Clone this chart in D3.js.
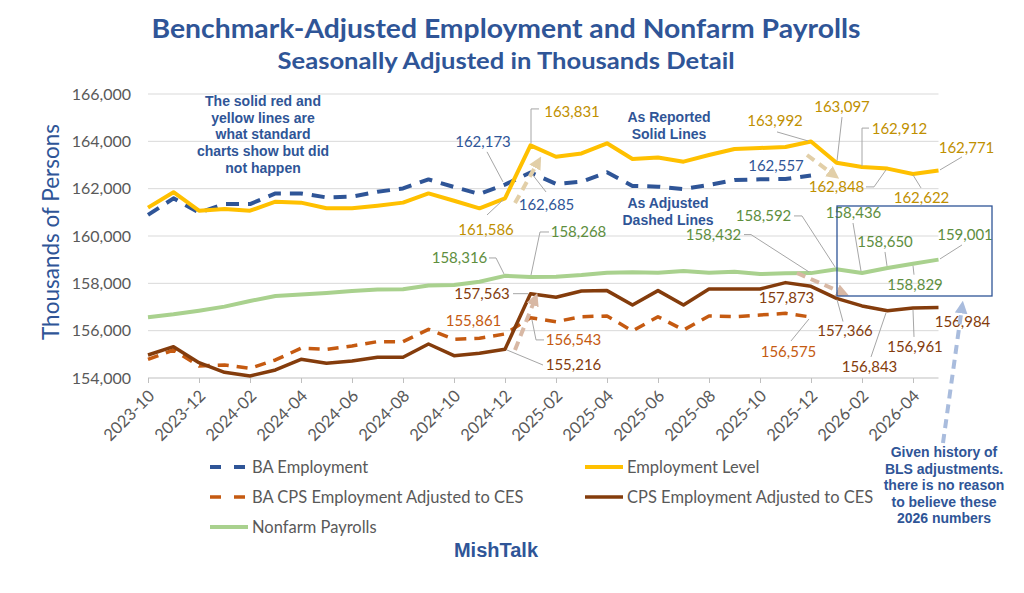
<!DOCTYPE html>
<html>
<head>
<meta charset="utf-8">
<script src="https://cdn.jsdelivr.net/npm/d3@7"></script>
<style>
  body { margin: 0; background: #fff; }
  svg { display: block; }
</style>
</head>
<body>
<script>
// months on the category axis
var months = ["2023-10","2023-11","2023-12","2024-01","2024-02","2024-03","2024-04","2024-05",
  "2024-06","2024-07","2024-08","2024-09","2024-10","2024-11","2024-12","2025-01",
  "2025-02","2025-03","2025-04","2025-05","2025-06","2025-07","2025-08","2025-09",
  "2025-10","2025-11","2025-12","2026-01","2026-02","2026-03","2026-04","2026-05"];

// series (thousands)
var baEmployment = [160890,161590,160990,161350,161350,161800,161800,161630,161660,161870,162010,162390,
  162070,161775,162173,162685,162200,162295,162690,162115,162085,161985,162155,162365,162395,162410,162557,
  null,null,null,null,null];
var employmentLevel = [161200,161850,161070,161140,161070,161450,161410,161170,161170,161280,161410,161800,
  161490,161170,161586,163831,163350,163490,163916,163254,163320,163140,163420,163676,163720,163760,163992,
  163097,162912,162848,162622,162771];
var baCps = [154790,155183,154508,154550,154409,154762,155254,155212,155353,155536,155536,156057,
  155634,155676,155861,156543,156380,156591,156620,155986,156591,156028,156620,156591,156662,156733,156575,
  null,null,null,null,null];
var cpsAdjusted = [154972,155324,154648,154240,154085,154339,154790,154620,154720,154874,154874,155437,
  154944,155044,155216,157563,157410,157678,157692,157086,157692,157086,157763,157763,157763,158030,157873,
  157366,157045,156843,156961,156984];
var nonfarm = [156566,156690,156845,157015,157255,157465,157525,157595,157680,157735,157750,157905,
  157930,158070,158316,158268,158283,158352,158451,158465,158451,158521,158451,158493,158394,158422,158432,
  158592,158436,158650,158829,159001];

var yTicks = [154000,156000,158000,160000,162000,164000,166000];
var xTickLabels = months.filter(function(d, i) { return i % 2 == 0; });

var W = 1024, H = 593;
var svg = d3.select("body").append("svg").attr("width", W).attr("height", H);

var x = d3.scalePoint().domain(months).range([148, 938.5]);
var y = d3.scaleLinear().domain([154000, 166000]).range([378, 94]);

var series = [
  {key: "nf", name: "Nonfarm Payrolls", values: nonfarm, color: "#A9D18E", label: "#5E8E3E", width: 4, dash: null},
  {key: "bacps", name: "BA CPS Employment Adjusted to CES", values: baCps, color: "#C55A11", label: "#C55A11", width: 3.5, dash: "11,8"},
  {key: "cps", name: "CPS Employment Adjusted to CES", values: cpsAdjusted, color: "#843C0C", label: "#843C0C", width: 3.5, dash: null},
  {key: "ba", name: "BA Employment", values: baEmployment, color: "#2F5597", label: "#2F5597", width: 4, dash: "13,9"},
  {key: "emp", name: "Employment Level", values: employmentLevel, color: "#FFC000", label: "#BF9000", width: 4, dash: null}
];
var byKey = {};
series.forEach(function(s) { byKey[s.key] = s; });

// gridlines
svg.append("g").selectAll("line").data(yTicks.slice(1)).enter().append("line")
  .attr("x1", 148).attr("x2", 938.5)
  .attr("y1", function(d) { return y(d); }).attr("y2", function(d) { return y(d); })
  .attr("stroke", "#D9D9D9").attr("stroke-width", 1);

// y axis labels
svg.append("g").selectAll("text").data(yTicks).enter().append("text")
  .attr("x", 131).attr("y", function(d) { return y(d); }).attr("dy", "0.35em")
  .attr("text-anchor", "end")
  .attr("font-family", "Lato, 'Open Sans', sans-serif").attr("font-size", "16px")
  .attr("fill", "#595959")
  .text(function(d) { return d3.format(",")(d); });

// x axis
var xAxis = svg.append("g").attr("transform", "translate(0," + y(154000) + ")")
  .call(d3.axisBottom(x).tickValues(xTickLabels).tickSize(5).tickSizeOuter(0).tickPadding(6));
xAxis.select(".domain").attr("stroke", "#BFBFBF").attr("d", "M148,0H938.5");
xAxis.selectAll(".tick line").attr("stroke", "#BFBFBF");
xAxis.selectAll(".tick text")
  .attr("font-family", "Lato, 'Open Sans', sans-serif").attr("font-size", "16.5px").attr("fill", "#595959")
  .attr("text-anchor", "end").attr("dy", null).attr("y", 0)
  .attr("transform", "translate(7,19) rotate(-45)");

// y axis title
svg.append("text")
  .attr("transform", "translate(59,232) rotate(-90)")
  .attr("text-anchor", "middle")
  .attr("font-family", "Lato, 'Open Sans', sans-serif").attr("font-size", "22.5px")
  .attr("fill", "#2F5597")
  .text("Thousands of Persons");

// lines
var line = d3.line()
  .defined(function(d) { return d != null; })
  .x(function(d, i) { return x(months[i]); })
  .y(function(d) { return y(d); });

svg.append("g").selectAll("path").data(series).enter().append("path")
  .attr("d", function(s) { return line(s.values); })
  .attr("fill", "none")
  .attr("stroke", function(s) { return s.color; })
  .attr("stroke-width", function(s) { return s.width; })
  .attr("stroke-dasharray", function(s) { return s.dash; })
  .attr("stroke-linejoin", "round");

// data labels: which points are labelled, with label offset and leader (relative to the point)
var labelled = [
  {s: "emp", i: 14, dx: -19, dy: 31.5, lead: [[-18,16.5],[-2,1.5]]},
  {s: "emp", i: 15, dx: 41.5, dy: -33.4, lead: [[8.5,-36.4],[0.5,-36.4],[0.5,-2]]},
  {s: "emp", i: 26, dx: -36, dy: -20.6, lead: [[-34,-9.6],[-3,-0.6]]},
  {s: "emp", i: 27, dx: 5.5, dy: -55.7, lead: [[5.5,-45.7],[0.5,-1.7]]},
  {s: "emp", i: 28, dx: 37.5, dy: -38, lead: [[7,-39],[0,-39],[0,-1]]},
  {s: "emp", i: 29, dx: -51, dy: 18.3, lead: [[-21.5,18.3],[-13.5,18.3],[-1.5,1.3]]},
  {s: "emp", i: 30, dx: 8.5, dy: 24, lead: [[8,14],[0,1]]},
  {s: "emp", i: 31, dx: 28, dy: -22.5, lead: [[23.5,-13.5],[1.5,-0.5]]},
  {s: "ba", i: 14, dx: -22, dy: -42.7, lead: [[-18,-32.7],[-2,-2.7]]},
  {s: "ba", i: 15, dx: 16, dy: 32.5, lead: [[15.5,19.5],[1.5,1.5]]},
  {s: "ba", i: 26, dx: -35, dy: -9.5, lead: null},
  {s: "nf", i: 14, dx: -45.5, dy: -17.9, lead: [[-16,-17.9],[-9,-17.9],[-1,-1.9]]},
  {s: "nf", i: 15, dx: 48, dy: -45, lead: [[18.5,-45],[9.5,-45],[0.5,-2]]},
  {s: "nf", i: 26, dx: -97.5, dy: -38.5, lead: [[-67,-38.5],[-60,-38.5],[-2,-1.2]]},
  {s: "nf", i: 27, dx: -73, dy: -53.4, lead: [[-42.5,-53.4],[-34.5,-53.4],[-1.5,-2.4]]},
  {s: "nf", i: 28, dx: -8.5, dy: -60, lead: [[-9,-50],[-1,-2]]},
  {s: "nf", i: 29, dx: -2.5, dy: -26, lead: [[-2.5,-16],[-0.5,-2]]},
  {s: "nf", i: 30, dx: 2, dy: 21, lead: [[1,11],[0,2]]},
  {s: "nf", i: 31, dx: 26.5, dy: -24.7, lead: [[23.5,-14.7],[1.5,-0.7]]},
  {s: "cps", i: 14, dx: 68.5, dy: 15.8, lead: [[38,15.8],[2,0.8]]},
  {s: "cps", i: 15, dx: -48.5, dy: 0, lead: [[-17.5,0],[-2.5,0]]},
  {s: "cps", i: 26, dx: -24.5, dy: 11.2, lead: null},
  {s: "cps", i: 27, dx: 8.5, dy: 32.2, lead: [[6.5,23.2],[0.5,1.2]]},
  {s: "cps", i: 29, dx: -18, dy: 56.2, lead: [[-16.5,46.2],[-1.5,2.2]]},
  {s: "cps", i: 30, dx: 2, dy: 39, lead: [[1,29],[0,2]]},
  {s: "cps", i: 31, dx: 24, dy: 14.5, lead: null},
  {s: "bacps", i: 14, dx: -31.5, dy: -13, lead: null},
  {s: "bacps", i: 15, dx: 43, dy: 22.1, lead: [[13.5,22.1],[5.5,22.1],[1.5,2.1]]},
  {s: "bacps", i: 26, dx: -22.5, dy: 34.9, lead: [[-20,23.9],[-2,1.9]]}
];

var labelG = svg.append("g");
labelled.forEach(function(l) {
  var s = byKey[l.s], v = s.values[l.i];
  var px = x(months[l.i]), py = y(v);
  if (l.lead) {
    labelG.append("polyline")
      .attr("points", l.lead.map(function(p) { return (px + p[0]) + "," + (py + p[1]); }).join(" "))
      .attr("fill", "none").attr("stroke", "#A6A6A6").attr("stroke-width", 1);
  }
  labelG.append("text")
    .attr("x", px + l.dx).attr("y", py + l.dy).attr("dy", "0.35em")
    .attr("text-anchor", "middle")
    .attr("font-family", "Lato, 'Open Sans', sans-serif").attr("font-size", "15px")
    .attr("fill", s.label)
    .text(d3.format(",")(v));
});

// dashed annotation arrows
var defs = svg.append("defs");
function marker(id, color) {
  defs.append("marker").attr("id", id)
    .attr("viewBox", "0 0 10 10").attr("refX", 5).attr("refY", 5)
    .attr("markerWidth", 3.2).attr("markerHeight", 3.2).attr("orient", "auto")
    .append("path").attr("d", "M0,0L10,5L0,10Z").attr("fill", color);
}
marker("tan", "#E2CFA8");
marker("rose", "#D8B8A4");
marker("sky", "#A9BCDD");
var arrows = [
  {from: [515, 203], to: [538, 162], c: "#E2CFA8", m: "tan"},
  {from: [807, 155], to: [834, 175], c: "#E2CFA8", m: "tan"},
  {from: [797, 273], to: [843, 293], c: "#D8B8A4", m: "rose"},
  {from: [515, 350], to: [535, 299], c: "#D8B8A4", m: "rose"},
  {from: [943, 443], to: [962, 307], c: "#A9BCDD", m: "sky"}
];
svg.append("g").selectAll("line").data(arrows).enter().append("line")
  .attr("x1", function(d) { return d.from[0]; }).attr("y1", function(d) { return d.from[1]; })
  .attr("x2", function(d) { return d.to[0]; }).attr("y2", function(d) { return d.to[1]; })
  .attr("stroke", function(d) { return d.c; }).attr("stroke-width", 4)
  .attr("stroke-dasharray", "9,6")
  .attr("marker-end", function(d) { return "url(#" + d.m + ")"; });

// box around 2026 values
svg.append("rect").attr("x", 837).attr("y", 206).attr("width", 155).attr("height", 90)
  .attr("fill", "none").attr("stroke", "#2F5597").attr("stroke-width", 1.3);

// titles
svg.append("text").attr("x", 506).attr("y", 38).attr("text-anchor", "middle")
  .attr("font-family", "Lato, sans-serif").attr("font-weight", "bold").attr("font-size", "26px")
  .attr("textLength", 709).attr("lengthAdjust", "spacingAndGlyphs")
  .attr("fill", "#2F5597").text("Benchmark-Adjusted Employment and Nonfarm Payrolls");
svg.append("text").attr("x", 506).attr("y", 69).attr("text-anchor", "middle")
  .attr("font-family", "Lato, sans-serif").attr("font-weight", "bold").attr("font-size", "22px")
  .attr("textLength", 457).attr("lengthAdjust", "spacingAndGlyphs")
  .attr("fill", "#2F5597").text("Seasonally Adjusted in Thousands Detail");

// text notes
function note(lines, cx, y0, step, size) {
  var t = svg.append("text").attr("text-anchor", "middle")
    .attr("font-family", "'Liberation Sans', Arial, sans-serif").attr("font-weight", "bold")
    .attr("font-size", size).attr("fill", "#2F5597");
  lines.forEach(function(s, k) {
    t.append("tspan").attr("x", cx).attr("y", y0 + k * step).text(s);
  });
}
note(["The solid red and", "yellow lines are", "what standard", "charts show but did", "not happen"], 263, 106, 16.7, "14px");
note(["As Reported", "Solid Lines"], 669, 122, 16.7, "14px");
note(["As Adjusted", "Dashed Lines"], 668, 208, 16.5, "14px");
note(["Given history of", "BLS adjustments.", "there is no reason", "to believe these", "2026 numbers"], 944, 457, 16.5, "14px");

// legend
var legendItems = [
  {k: "ba", col: 0, row: 0}, {k: "emp", col: 1, row: 0},
  {k: "bacps", col: 0, row: 1}, {k: "cps", col: 1, row: 1},
  {k: "nf", col: 0, row: 2}
];
var lg = svg.append("g").selectAll("g").data(legendItems).enter().append("g")
  .attr("transform", function(d) { return "translate(" + (210 + d.col * 375) + "," + (467 + d.row * 30) + ")"; });
lg.append("line").attr("x1", 0).attr("x2", 38).attr("y1", 0).attr("y2", 0)
  .attr("stroke", function(d) { return byKey[d.k].color; })
  .attr("stroke-width", function(d) { return byKey[d.k].width; })
  .attr("stroke-dasharray", function(d) { return byKey[d.k].dash ? "11,13" : null; });
lg.append("text").attr("x", 42).attr("dy", "0.35em")
  .attr("font-family", "Lato, 'Open Sans', sans-serif").attr("font-size", "16.5px").attr("fill", "#595959")
  .text(function(d) { return byKey[d.k].name; });

// source
svg.append("text").attr("x", 496).attr("y", 557).attr("text-anchor", "middle")
  .attr("font-family", "'Liberation Sans Narrow', 'Liberation Sans', sans-serif").attr("font-weight", "bold")
  .attr("font-size", "20px").attr("fill", "#2F5597").text("MishTalk");
</script>
</body>
</html>
